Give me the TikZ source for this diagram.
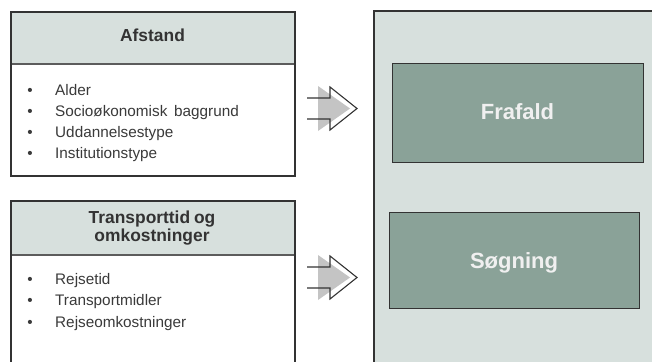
\documentclass[tikz,border=0pt]{standalone}
\usepackage{fontspec}
\setmainfont{Liberation Sans}
\usetikzlibrary{calc}

\definecolor{panelbg}{HTML}{D7E0DD}
\definecolor{boxgreen}{HTML}{8AA298}
\definecolor{inkgray}{HTML}{333333}
\definecolor{textgray}{HTML}{3A3A3A}
\definecolor{shadegray}{HTML}{C4C4C4}

\tikzset{
  framebox/.style={draw=inkgray, line width=1.1pt},
  headfill/.style={fill=panelbg},
  headtitle/.style={font=\bfseries\fontsize{17.4}{18}\selectfont, text=inkgray, align=center, inner sep=0pt},
  bulletmark/.style={font=\fontsize{15.3}{18}\selectfont, text=textgray, anchor=base, inner sep=0pt},
  bullettext/.style={font=\fontsize{15.3}{18}\selectfont, text=textgray, anchor=base west, inner sep=0pt},
  outcome/.style={draw=inkgray, line width=0.9pt, fill=boxgreen},
  outcometext/.style={font=\bfseries\fontsize{22}{24}\selectfont, text=white!94!black, anchor=base, inner sep=0pt},
  pics/flowarrow/.style={code={
    \fill[shadegray] (11,-22.5) -- (43,0) -- (11,22.5) -- cycle;
    \draw[draw=inkgray, line width=1.1pt, line join=miter]
      (0,-10.5) -- (23,-10.5) -- (23,-21.5) -- (50,0) -- (23,21.5) -- (23,10.5) -- (0,10.5);
  }}
}

\begin{document}
\begin{tikzpicture}[x=1pt, y=-1pt]
  \useasboundingbox (0,0) rectangle (652,361);
  \clip (0,0) rectangle (652,361);
  \fill[white] (0,0) rectangle (652,361);

  % outcome panel on the right
  \path[fill=panelbg, draw=inkgray, line width=1.1pt] (374,11) rectangle (670,380);
  \coordinate (panel) at (374,11);

  % first factor box: Afstand
  \path[headfill] (11,12) rectangle (295,64);
  \draw[draw=inkgray!80, line width=1.6pt] (11,64) -- (295,64);
  \draw[framebox] (11,12) rectangle (295,176);
  \node[headtitle, anchor=base] (afstand) at (152.5,41.7) {Afstand};
  \node[bulletmark] (ba1) at (30,95) {•};
  \node[bullettext] (ta1) at (55,95) {Alder};
  \node[bulletmark] (ba2) at (30,116) {•};
  \node[bullettext] (ta2) at (55,116) {Socioøkonomisk\ \,baggrund};
  \node[bulletmark] (ba3) at (30,137) {•};
  \node[bullettext] (ta3) at (55,137) {Uddannelsestype};
  \node[bulletmark] (ba4) at (30,158) {•};
  \node[bullettext] (ta4) at (55,158) {Institutionstype};

  % second factor box: Transporttid og omkostninger
  \path[headfill] (11,201) rectangle (295,255);
  \draw[draw=inkgray!80, line width=1.6pt] (11,255) -- (295,255);
  \draw[framebox] (11,380) -- (11,201) -- (295,201) -- (295,380);
  \node[headtitle, anchor=base] (transp1) at (152,223.3) {Transporttid\kern-1pt\ og};
  \node[headtitle, anchor=base] (transp2) at (152,241) {omkostninger};
  \node[bulletmark] (bb1) at (30,284) {•};
  \node[bullettext] (tb1) at (55,284) {Rejsetid};
  \node[bulletmark] (bb2) at (30,305.7) {•};
  \node[bullettext] (tb2) at (55,305.7) {Transportmidler};
  \node[bulletmark] (bb3) at (30,327.7) {•};
  \node[bullettext] (tb3) at (55,327.7) {Rejseomkostninger};

  % outcomes
  \draw[outcome] (392,63) rectangle (643,162);
  \node[outcometext] (frafald) at (517.5,119.3) {Frafald};
  \draw[outcome] (389,212) rectangle (639,308);
  \node[outcometext] (sogning) at (514,268.3) {Søgning};

  % block arrows between factors and outcomes
  \coordinate (arrowA) at (307,108.5);
  \coordinate (arrowB) at (307,277.5);
  \pic at (arrowA) {flowarrow};
  \pic at (arrowB) {flowarrow};
\end{tikzpicture}
\end{document}
